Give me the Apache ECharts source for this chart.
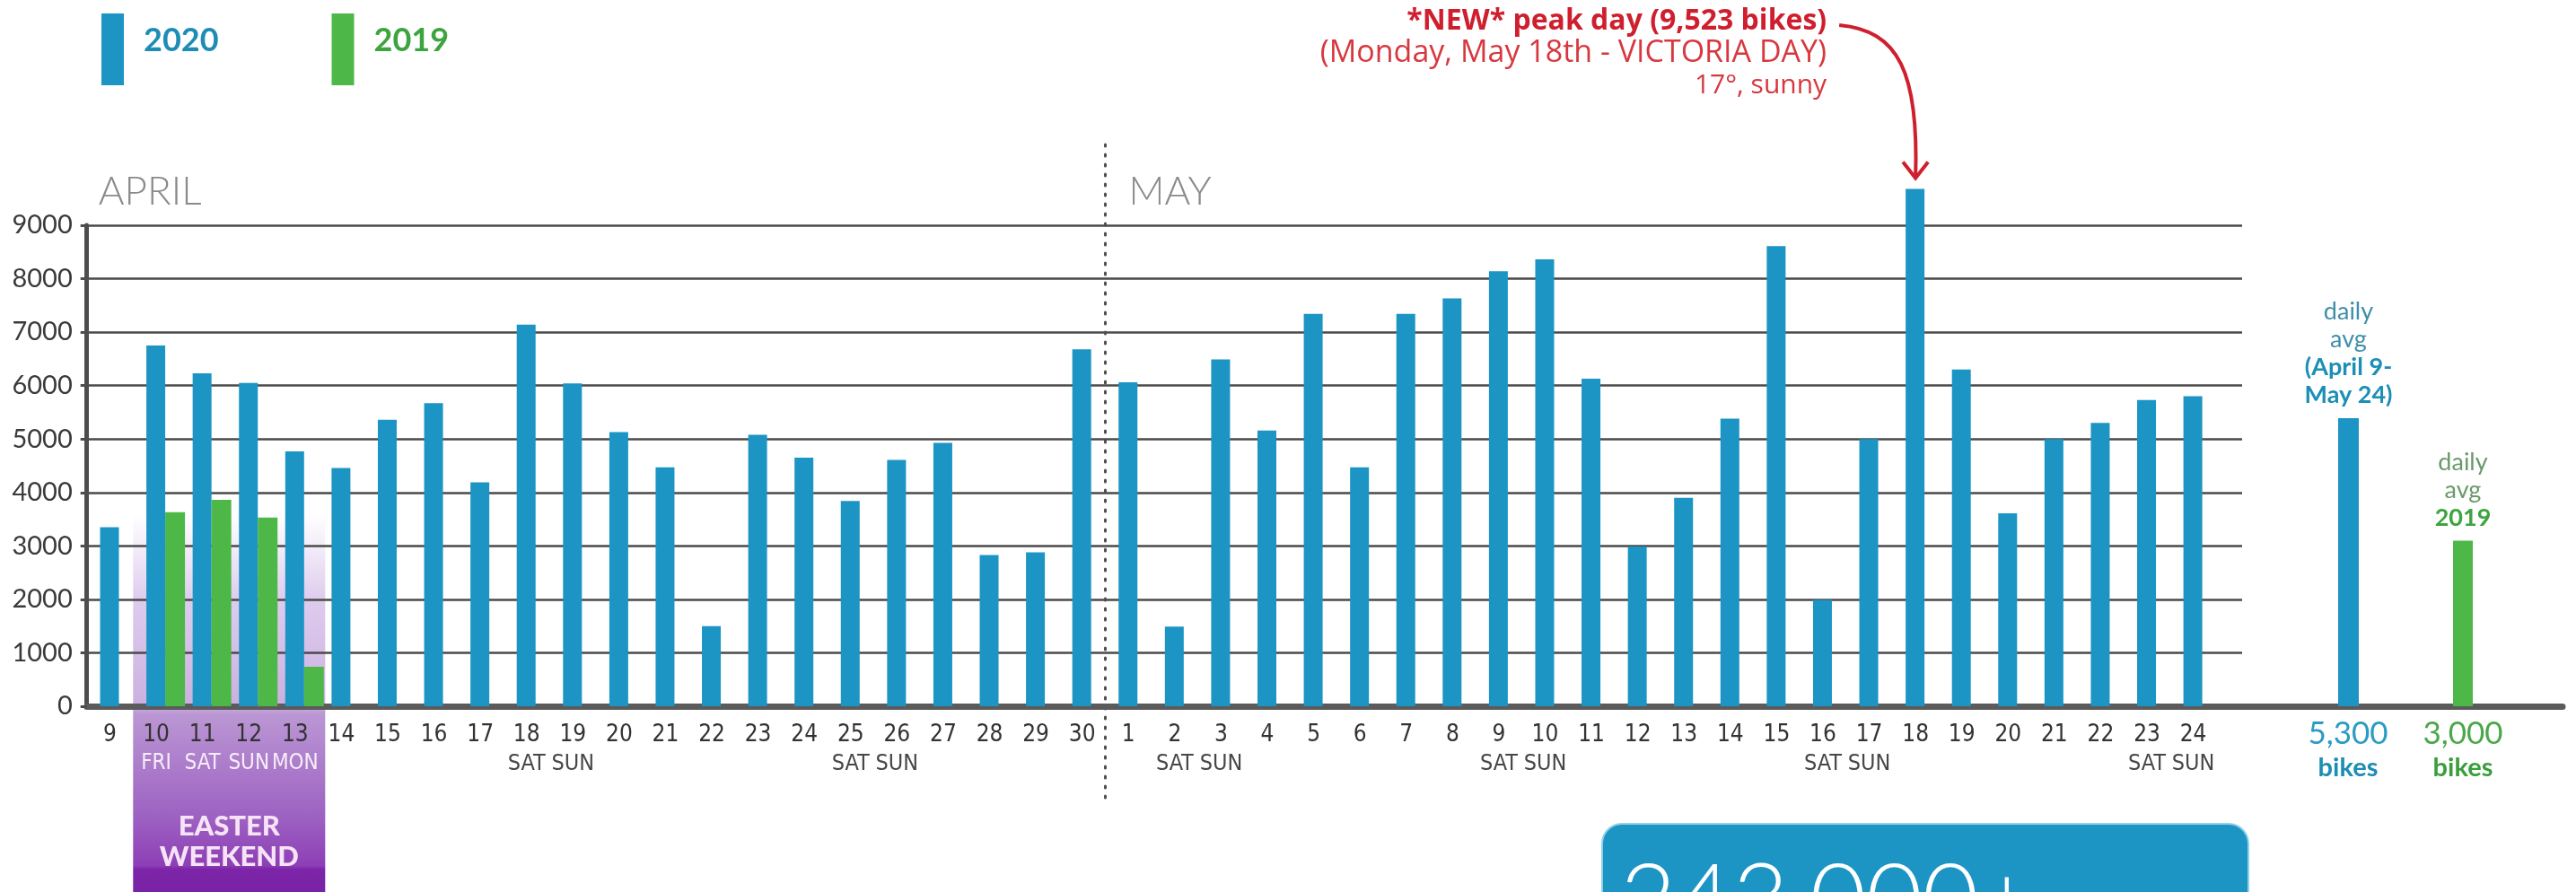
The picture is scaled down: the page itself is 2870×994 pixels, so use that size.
<!DOCTYPE html>
<html>
<head>
<meta charset="utf-8">
<title>Daily bike counts, April 9 - May 24</title>
<script src="https://cdn.jsdelivr.net/npm/echarts@6/dist/echarts.min.js"></script>
<style>
  html, body { margin: 0; padding: 0; background: #fff; }
  #chart { width: 2870px; height: 994px; }
</style>
</head>
<body>
<div id="chart"></div>
<script>
// --- data ---
const days = [
  'Apr 9', 'Apr 10', 'Apr 11', 'Apr 12', 'Apr 13', 'Apr 14', 'Apr 15', 'Apr 16', 'Apr 17', 'Apr 18', 'Apr 19',
  'Apr 20', 'Apr 21', 'Apr 22', 'Apr 23', 'Apr 24', 'Apr 25', 'Apr 26', 'Apr 27', 'Apr 28', 'Apr 29', 'Apr 30',
  'May 1', 'May 2', 'May 3', 'May 4', 'May 5', 'May 6', 'May 7', 'May 8', 'May 9', 'May 10', 'May 11', 'May 12',
  'May 13', 'May 14', 'May 15', 'May 16', 'May 17', 'May 18', 'May 19', 'May 20', 'May 21', 'May 22', 'May 23', 'May 24'
]
const bikes2020 = [
  3350, 6750, 6230, 6050, 4770, 4460, 5360, 5670, 4190, 7140, 6040,
  5130, 4470, 1500, 5080, 4650, 3840, 4610, 4930, 2830, 2880, 6680,
  6060, 1490, 6490, 5160, 7340, 4470, 7340, 7630, 8140, 8360, 6130, 2990,
  3900, 5380, 8610, 1990, 5000, 9680, 6300, 3610, 5000, 5300, 5730, 5800
]
const bikes2019 = [null, 3630, 3860, 3530, 740]
const dayTags = {
  'Apr 10': 'FRI', 'Apr 11': 'SAT', 'Apr 12': 'SUN', 'Apr 13': 'MON',
  'Apr 18': 'SAT', 'Apr 19': 'SUN', 'Apr 25': 'SAT', 'Apr 26': 'SUN',
  'May 2': 'SAT', 'May 3': 'SUN', 'May 9': 'SAT', 'May 10': 'SUN',
  'May 16': 'SAT', 'May 17': 'SUN', 'May 23': 'SAT', 'May 24': 'SUN'
}
const easterDays = ['Apr 10', 'Apr 11', 'Apr 12', 'Apr 13']
const avgNames = ['2020 avg', '2019 avg']
const avgValues = [5390, 3100]
const avgTotals = ['5,300', '3,000']
const yMax = 9000
const yStep = 1000
const peakDay = 'May 18'
const peakNote = ['*NEW* peak day (9,523 bikes)', '(Monday, May 18th - VICTORIA DAY)', '17°, sunny']
const totalRides = '243,000+'

const BLUE = '#1c95c4'
const GREEN = '#4db848'
const NARROW = "'Liberation Sans Narrow', 'DejaVu Sans Condensed', sans-serif"
const SANS = "Lato, 'Open Sans', sans-serif"
const WIDE = "'Open Sans', Lato, sans-serif"

const gridTop = 251
const gridBottom = 207
const dayLeft = 96.7
const dayRight = 400.6

const option = {
  animation: false,
  backgroundColor: '#ffffff',
  textStyle: { fontFamily: SANS },
  legend: {
    left: 108,
    top: 10,
    icon: 'rect',
    itemWidth: 25,
    itemHeight: 80,
    itemGap: 126,
    selectedMode: false,
    formatter: (name) => `{t|${name}}\n{p| }`,
    textStyle: {
      fontSize: 36,
      fontWeight: 'bold',
      padding: [0, 0, 0, 17],
      rich: {
        t: { fontSize: 36, fontWeight: 'bold', lineHeight: 40 },
        p: { fontSize: 10, lineHeight: 20 },
      },
    },
    data: [
      { name: '2020', textStyle: { color: '#1e8db5' } },
      { name: '2019', textStyle: { color: '#3ea43f' } },
    ],
  },
  grid: [
    { left: dayLeft, right: dayRight, top: gridTop, bottom: gridBottom },
    { left: dayLeft, right: 372, top: gridTop, bottom: gridBottom },
    { left: 2870 - dayRight, right: 15, top: gridTop, bottom: gridBottom },
    { left: 2552, right: 62, top: gridTop, bottom: gridBottom },
  ],
  xAxis: [
    {
      gridIndex: 0,
      type: 'category',
      data: days,
      axisLine: { lineStyle: { color: '#5b5b5b', width: 7 } },
      axisTick: { show: false },
      axisLabel: {
        interval: 0,
        margin: 16,
        formatter: (value) => {
          const num = value.split(' ')[1]
          const tag = dayTags[value]
          if (!tag) return `{d|${num}}`
          return easterDays.includes(value) ? `{d|${num}}\n{e|${tag}}` : `{d|${num}}\n{w|${tag}}`
        },
        rich: {
          d: { fontFamily: NARROW, fontSize: 26, color: '#333', lineHeight: 32 },
          w: { fontFamily: NARROW, fontSize: 25, color: '#474747', lineHeight: 32 },
          e: { fontFamily: NARROW, fontSize: 24, color: '#f7ecf9', lineHeight: 32 },
        },
      },
    },
    { gridIndex: 1, type: 'value', min: 0, max: 1, show: false },
    {
      gridIndex: 2,
      type: 'value',
      min: 0,
      max: 1,
      axisLine: { lineStyle: { color: '#5b5b5b', width: 7 } },
      axisTick: { show: false },
      axisLabel: { show: false },
      splitLine: { show: false },
    },
    {
      gridIndex: 3,
      type: 'category',
      data: avgNames,
      axisLine: { show: false },
      axisTick: { show: false },
      axisLabel: {
        interval: 0,
        margin: 12,
        formatter: (value, index) => index === 0
          ? `{nb|${avgTotals[0]}}\n{bb|bikes}`
          : `{ng|${avgTotals[1]}}\n{bg|bikes}`,
        rich: {
          nb: { fontSize: 35, color: '#2a9cc2', lineHeight: 38 },
          bb: { fontSize: 29, fontWeight: 'bold', color: '#1d8db3', lineHeight: 38 },
          ng: { fontSize: 35, color: '#4aa84a', lineHeight: 38 },
          bg: { fontSize: 29, fontWeight: 'bold', color: '#3a9e3c', lineHeight: 38 },
        },
      },
    },
  ],
  yAxis: [
    { gridIndex: 0, type: 'value', min: 0, max: yMax, interval: yStep, show: false },
    {
      gridIndex: 1,
      type: 'value',
      min: 0,
      max: yMax,
      interval: yStep,
      axisLine: { show: true, onZero: false, lineStyle: { color: '#4d4d4d', width: 5 } },
      axisTick: { show: true, length: 7, lineStyle: { color: '#4d4d4d', width: 3 } },
      axisLabel: { margin: 16, fontSize: 29, color: '#3a3a3a', formatter: (v) => String(v) },
      splitLine: { show: true, lineStyle: { color: '#4a4a4a', width: 2.5 } },
    },
    { gridIndex: 2, type: 'value', min: 0, max: yMax, show: false },
    { gridIndex: 3, type: 'value', min: 0, max: yMax, show: false },
  ],
  series: [
    // empty slot on the left keeps each 2020 bar centred on its day label
    { name: 'spacer', type: 'bar', data: [], barWidth: 21, barGap: '0%' },
    {
      name: '2020', type: 'bar', data: bikes2020, barWidth: 21, barGap: '0%', clip: false,
      itemStyle: { color: BLUE },
    },
    { name: '2019', type: 'bar', data: bikes2019, barWidth: 22, barGap: '0%', itemStyle: { color: GREEN } },
    {
      name: '2020 avg',
      type: 'bar',
      xAxisIndex: 3,
      yAxisIndex: 3,
      data: [avgValues[0], null],
      barWidth: 23,
      barGap: '-100%',
      itemStyle: { color: BLUE },
      label: {
        show: true,
        position: 'top',
        distance: 10,
        formatter: '{a|daily}\n{a|avg}\n{b|(April 9-}\n{b|May 24)}',
        rich: {
          a: { fontSize: 27, color: '#3f8fa8', lineHeight: 31 },
          b: { fontSize: 27, fontWeight: 'bold', color: '#1b8fb5', lineHeight: 31 },
        },
      },
    },
    {
      name: '2019 avg',
      type: 'bar',
      xAxisIndex: 3,
      yAxisIndex: 3,
      data: [null, avgValues[1]],
      barWidth: 22,
      barGap: '-100%',
      itemStyle: { color: GREEN },
      label: {
        show: true,
        position: 'top',
        distance: 10,
        formatter: '{a|daily}\n{a|avg}\n{b|2019}',
        rich: {
          a: { fontSize: 27, color: '#6a9a6a', lineHeight: 31 },
          b: { fontSize: 27, fontWeight: 'bold', color: '#3ea43f', lineHeight: 31 },
        },
      },
    },
  ],
}

const chart = echarts.init(document.getElementById('chart'))
chart.setOption(option)

// annotations placed from the axes' own pixel mapping
function px(index, value) {
  return chart.convertToPixel({ xAxisIndex: 0, yAxisIndex: 0 }, [index, value])
}

function buildAnnotations() {
  const band = px(1, 0)[0] - px(0, 0)[0]
  const first = days.indexOf(easterDays[0])
  const last = days.indexOf(easterDays[easterDays.length - 1])
  const easterLeft = px(first, 0)[0] - band / 2
  const easterRight = px(last, 0)[0] + 10.5 + 23
  const fadeTop = px(0, 3600)[1]
  const zeroY = px(0, 0)[1]
  const H = 994
  const axisStop = (zeroY - fadeTop) / (H - fadeTop)

  const mayStart = days.indexOf('May 1')
  const sepX = (px(mayStart - 1, 0)[0] + px(mayStart, 0)[0]) / 2

  const peakIndex = days.indexOf(peakDay)
  const [peakX, peakTop] = px(peakIndex, bikes2020[peakIndex])
  const tipY = peakTop - 12
  const noteRight = peakX - 99
  const red = '#cf1f2e'
  const noteSizes = [32, 34, 30]

  return [
    {
      type: 'rect',
      z: -1,
      silent: true,
      shape: { x: easterLeft, y: fadeTop, width: easterRight - easterLeft, height: H - fadeTop },
      style: {
        fill: new echarts.graphic.LinearGradient(0, 0, 0, 1, [
          { offset: 0, color: 'rgba(214,190,234,0)' },
          { offset: axisStop * 0.45, color: 'rgba(210,186,232,0.75)' },
          { offset: axisStop, color: '#cbb0df' },
          { offset: axisStop + 0.02, color: '#bb97d4' },
          { offset: 0.8, color: '#9d62c2' },
          { offset: 0.93, color: '#8d3fb6' },
          { offset: 0.94, color: '#7d25a8' },
          { offset: 1, color: '#7a22a5' },
        ]),
      },
    },
    {
      type: 'text',
      z: 5,
      silent: true,
      style: {
        text: 'EASTER\nWEEKEND',
        x: (easterLeft + easterRight) / 2,
        y: 938,
        align: 'center', textAlign: 'center',
        verticalAlign: 'middle', textVerticalAlign: 'middle',
        font: `900 31px ${SANS}`,
        lineHeight: 34,
        fill: '#f6e3f5',
      },
    },
    {
      type: 'line',
      silent: true,
      shape: { x1: sepX, y1: 161, x2: sepX, y2: 897 },
      style: { stroke: '#4f4f4f', lineWidth: 3, lineDash: [2, 9], lineCap: 'round' },
    },
    {
      type: 'text',
      silent: true,
      style: {
        text: 'APRIL', x: dayLeft + 13, y: 214,
        verticalAlign: 'middle', textVerticalAlign: 'middle',
        font: `300 44px ${SANS}`, fill: '#8a8a8a',
      },
    },
    {
      type: 'text',
      silent: true,
      style: {
        text: 'MAY', x: sepX + 26, y: 214,
        verticalAlign: 'middle', textVerticalAlign: 'middle',
        font: `300 44px ${SANS}`, fill: '#8a8a8a',
      },
    },
    ...peakNote.map((line, i) => ({
      type: 'text',
      silent: true,
      style: {
        text: line, x: noteRight, y: 24 + i * 35.5,
        align: 'right', textAlign: 'right',
        verticalAlign: 'middle', textVerticalAlign: 'middle',
        font: `${i === 0 ? 'bold' : 'normal'} ${noteSizes[i]}px ${WIDE}`,
        fill: i === 0 ? red : '#d7383f',
      },
    })),
    {
      type: 'bezierCurve',
      silent: true,
      shape: {
        x1: noteRight + 14, y1: 28,
        cpx1: noteRight + 80, cpy1: 34,
        cpx2: peakX + 4, cpy2: 80,
        x2: peakX, y2: tipY,
      },
      style: { stroke: red, lineWidth: 4, fill: null },
    },
    {
      type: 'polyline',
      silent: true,
      shape: { points: [[peakX - 14, tipY - 18], [peakX, tipY], [peakX + 14, tipY - 18]] },
      style: { stroke: red, lineWidth: 4, fill: null },
    },
    {
      type: 'rect',
      silent: true,
      shape: { x: 1785, y: 918, width: 720, height: 140, r: 22 },
      style: { fill: BLUE, stroke: '#8fd0ea', lineWidth: 2 },
    },
    {
      type: 'text',
      silent: true,
      style: {
        text: totalRides, x: 1805, y: 951,
        verticalAlign: 'top', textVerticalAlign: 'top',
        font: `300 108px ${SANS}`, fill: '#ffffff',
      },
    },
  ]
}

chart.setOption({ graphic: buildAnnotations() })
</script>
</body>
</html>
